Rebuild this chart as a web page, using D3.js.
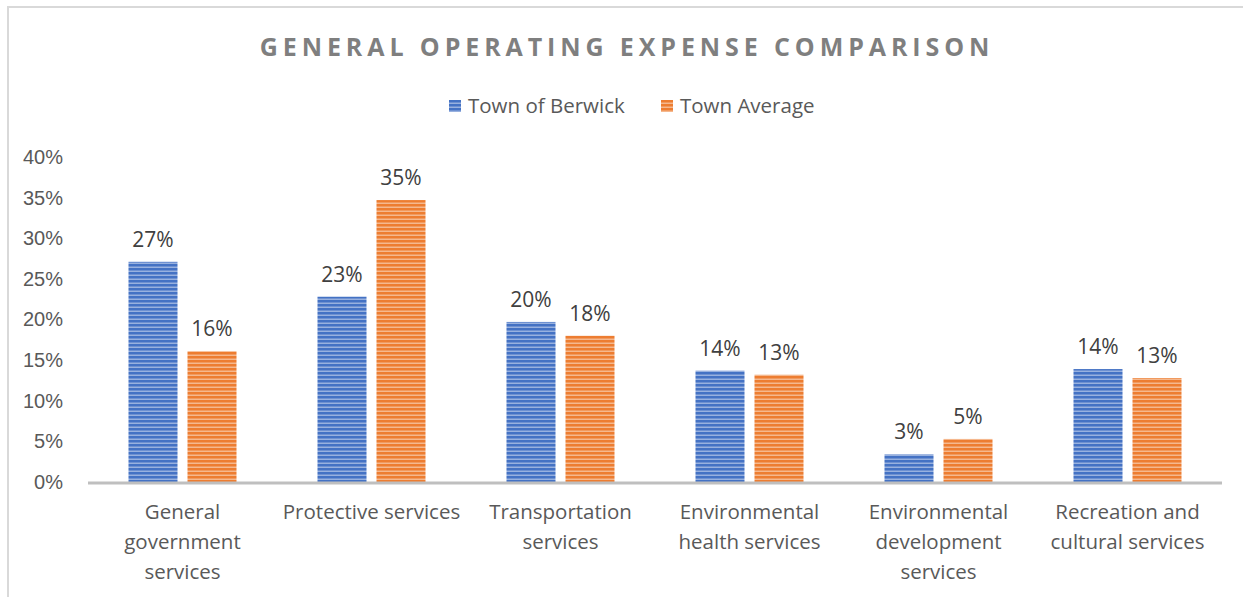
<!DOCTYPE html>
<html>
<head>
<meta charset="utf-8">
<script src="https://cdn.jsdelivr.net/npm/d3@7"></script>
<style>
  body { margin: 0; background: #fff; }
  svg { display: block; font-family: "Open Sans", "Noto Sans", sans-serif; }
</style>
</head>
<body>
<div id="chart"></div>
<script>
var categories = [
  ["General", "government", "services"],
  ["Protective services"],
  ["Transportation", "services"],
  ["Environmental", "health services"],
  ["Environmental", "development", "services"],
  ["Recreation and", "cultural services"]
];
var seriesNames = ["Town of Berwick", "Town Average"];
var berwick = [0.271, 0.228, 0.197, 0.137, 0.034, 0.139];
var average = [0.161, 0.347, 0.180, 0.132, 0.053, 0.128];
var yTicks = [0, 0.05, 0.1, 0.15, 0.2, 0.25, 0.3, 0.35, 0.4];
var colors = ["#4472c4", "#ed7d31"];

var W = 1243, H = 597;
var margin = {left: 88, right: 21, top: 157, bottom: 115};

var svg = d3.select("#chart").append("svg").attr("width", W).attr("height", H);

// stripes like the excel pattern fill
var defs = svg.append("defs");
colors.forEach(function(c, i) {
  var p = defs.append("pattern").attr("id", "stripe" + i)
    .attr("patternUnits", "userSpaceOnUse").attr("width", 8).attr("height", 4);
  p.append("rect").attr("width", 8).attr("height", 4).attr("fill", d3.interpolateRgb(c, "#fff")(0.45));
  p.append("rect").attr("width", 8).attr("height", 2.5).attr("fill", c);
});

// chart border
svg.append("path").attr("d", "M8," + H + "V7H" + W)
  .attr("fill", "none").attr("stroke", "#d9d9d9").attr("stroke-width", 2);

svg.append("text").attr("x", 627).attr("y", 56)
  .attr("text-anchor", "middle")
  .style("font-size", "25px").style("font-weight", "bold")
  .style("letter-spacing", "4.9px").style("fill", "#7f7f7f")
  .text("GENERAL OPERATING EXPENSE COMPARISON");

// legend
var legX = [449, 661];
seriesNames.forEach(function(n, i) {
  var g = svg.append("g").attr("transform", "translate(" + legX[i] + ",100)");
  g.append("rect").attr("width", 12).attr("height", 12).attr("fill", "url(#stripe" + i + ")");
  g.append("text").attr("x", 19).attr("y", 13).style("font-size", "20.5px").style("fill", "#595959").text(n);
});

var x = d3.scaleBand().domain(d3.range(categories.length))
  .range([margin.left, W - margin.right]);
var y = d3.scaleLinear().domain([0, 0.4]).range([H - margin.bottom, margin.top]);

var yAxis = svg.append("g").attr("transform", "translate(" + margin.left + ",0)")
  .call(d3.axisLeft(y).tickValues(yTicks).tickFormat(d3.format(".0%")).tickSize(0).tickPadding(25));
yAxis.select(".domain").remove();
yAxis.selectAll("text").style("font-size", "20px").style("fill", "#595959").attr("font-family", null);

var barW = 49, gap = 10;
var series = [berwick, average];
series.forEach(function(vals, s) {
  var off = s === 0 ? -gap / 2 - barW : gap / 2;
  svg.append("g").selectAll("rect").data(vals).enter().append("rect")
    .attr("x", function(d, i) { return x(i) + x.bandwidth() / 2 + off; })
    .attr("y", function(d) { return y(d); })
    .attr("width", barW)
    .attr("height", function(d) { return y(0) - y(d); })
    .attr("fill", "url(#stripe" + s + ")");
  svg.append("g").selectAll("text").data(vals).enter().append("text")
    .attr("x", function(d, i) { return x(i) + x.bandwidth() / 2 + off + barW / 2; })
    .attr("y", function(d) { return y(d) - 15; })
    .attr("text-anchor", "middle")
    .style("font-size", "21px").style("fill", "#404040")
    .text(function(d) { return d3.format(".0%")(d); });
});

// x axis line
svg.append("line").attr("x1", margin.left).attr("x2", W - margin.right)
  .attr("y1", y(0) + 1).attr("y2", y(0) + 1)
  .attr("stroke", "#bfbfbf").attr("stroke-width", 3);

var xl = svg.append("g").selectAll("text").data(categories).enter().append("text")
  .attr("x", function(d, i) { return x(i) + x.bandwidth() / 2; })
  .attr("y", 519)
  .attr("text-anchor", "middle")
  .style("font-size", "20.5px").style("fill", "#595959");
xl.selectAll("tspan").data(function(d) { return d; }).enter().append("tspan")
  .attr("x", function() { return this.parentNode.getAttribute("x"); })
  .attr("dy", function(d, i) { return i ? 30 : 0; })
  .text(function(d) { return d; });
</script>
</body>
</html>
